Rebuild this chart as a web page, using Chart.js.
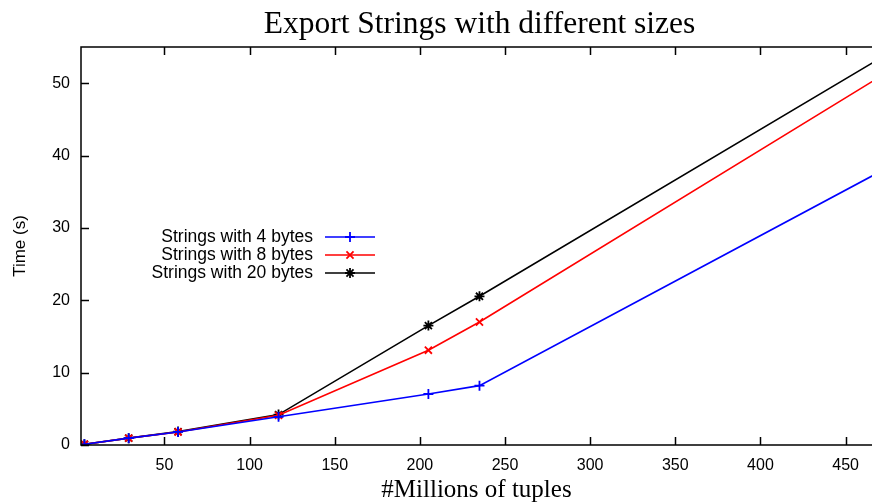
<!DOCTYPE html>
<html>
<head>
<meta charset="utf-8">
<title>Export Strings</title>
<script src="https://cdn.jsdelivr.net/npm/chart.js@4.4.0/dist/chart.umd.min.js"></script>
<style>
  body { margin: 0; background: #fff; }
  #exportChart { display: block; }
</style>
</head>
<body>
<canvas id="exportChart" width="872" height="504"></canvas>
<script>
// millions of tuples exported
var tuples = [3, 29, 58, 117, 205, 235, 480];
// time in seconds for each string size
var time4 = [0.1, 0.95, 1.8, 3.9, 7.05, 8.2, 39.0];
var time8 = [0.1, 0.95, 1.8, 4.1, 13.1, 17.0, 52.3];
var time20 = [0.1, 0.95, 1.85, 4.2, 16.5, 20.55, 54.8];

var xTicks = [50, 100, 150, 200, 250, 300, 350, 400, 450];
var yTicks = [0, 10, 20, 30, 40, 50];

var sans = "'Liberation Sans', Arial, sans-serif";
var serif = "'Liberation Serif', 'Times New Roman', serif";

function toPoints(values) {
  return values.map(function (v, i) {
    return { x: tuples[i], y: v };
  });
}

function series(label, values, color, style) {
  return {
    label: label,
    data: toPoints(values),
    borderColor: color,
    backgroundColor: color,
    borderWidth: 1.6,
    pointStyle: style,
    pointRadius: 5,
    pointBorderWidth: 1.8,
    pointBorderColor: color,
    tension: 0,
    fill: false,
  };
}

var data = {
  datasets: [
    series("Strings with 4 bytes", time4, "#0000ff", "cross"),
    series("Strings with 8 bytes", time8, "#ff0000", "crossRot"),
    series("Strings with 20 bytes", time20, "#000000", "star"),
  ],
};

// gnuplot-like frame with inward ticks
var framePlugin = {
  id: "frame",
  afterDatasetsDraw: function (chart) {
    var ctx = chart.ctx;
    var a = chart.chartArea;
    var xs = chart.scales.x;
    var ys = chart.scales.y;
    ctx.save();
    ctx.strokeStyle = "#000";
    ctx.lineWidth = 1.5;
    ctx.beginPath();
    ctx.moveTo(a.right + 2, a.top);
    ctx.lineTo(a.left, a.top);
    ctx.lineTo(a.left, a.bottom);
    ctx.lineTo(a.right + 2, a.bottom);
    xTicks.forEach(function (v) {
      var px = Math.round(xs.getPixelForValue(v)) + 0.5;
      ctx.moveTo(px, a.bottom);
      ctx.lineTo(px, a.bottom - 8);
      ctx.moveTo(px, a.top);
      ctx.lineTo(px, a.top + 8);
    });
    yTicks.forEach(function (v) {
      var py = Math.round(ys.getPixelForValue(v)) + 0.5;
      ctx.moveTo(a.left, py);
      ctx.lineTo(a.left + 8, py);
    });
    ctx.stroke();
    ctx.restore();
  },
};

// title over the plot and legend with the key on the right
var textPlugin = {
  id: "texts",
  afterDraw: function (chart) {
    var ctx = chart.ctx;
    var a = chart.chartArea;
    ctx.save();
    ctx.fillStyle = "#000";
    ctx.font = "31.5px " + serif;
    ctx.textAlign = "center";
    ctx.textBaseline = "alphabetic";
    ctx.fillText("Export Strings with different sizes", (a.left + a.right) / 2 + 3, 33);

    ctx.font = "17.5px " + sans;
    ctx.textAlign = "right";
    ctx.textBaseline = "middle";
    chart.data.datasets.forEach(function (ds, i) {
      var y = 237 + i * 18;
      ctx.fillStyle = "#000";
      ctx.fillText(ds.label, 313, y);
      ctx.strokeStyle = ds.borderColor;
      ctx.lineWidth = 1.6;
      ctx.beginPath();
      ctx.moveTo(325, y);
      ctx.lineTo(375, y);
      ctx.stroke();
      ctx.lineWidth = 1.8;
      Chart.helpers.drawPoint(ctx, { pointStyle: ds.pointStyle, radius: 5, rotation: 0, borderWidth: 1.8 }, 350, y);
    });
    ctx.restore();
  },
};

var ctx = document.getElementById("exportChart").getContext("2d");

var exportChart = new Chart(ctx, {
  type: "line",
  data: data,
  plugins: [framePlugin, textPlugin],
  options: {
    responsive: false,
    animation: false,
    layout: { autoPadding: false, padding: { top: 47, right: 0, left: 0, bottom: 0 } },
    plugins: {
      legend: { display: false },
      title: { display: false },
      tooltip: { enabled: false },
    },
    scales: {
      x: {
        type: "linear",
        min: 1,
        max: 465.5,
        afterBuildTicks: function (scale) {
          scale.ticks = xTicks.map(function (v) { return { value: v }; });
        },
        afterFit: function (scale) {
          scale.height = 59;
        },
        grid: { display: false },
        border: { display: false },
        ticks: {
          color: "#000",
          font: { family: sans, size: 16 },
          padding: 3,
          maxRotation: 0,
        },
        title: {
          display: true,
          text: "#Millions of tuples",
          color: "#000",
          font: { family: serif, size: 25, lineHeight: 1.12 },
          padding: { top: 0, bottom: 0 },
        },
      },
      y: {
        min: 0,
        max: 55,
        afterBuildTicks: function (scale) {
          scale.ticks = yTicks.map(function (v) { return { value: v }; });
        },
        afterFit: function (scale) {
          scale.width = 81;
        },
        grid: { display: false },
        border: { display: false },
        ticks: {
          color: "#000",
          font: { family: sans, size: 16 },
          padding: 3,
        },
        title: {
          display: true,
          text: "Time (s)",
          color: "#000",
          font: { family: sans, size: 17 },
          padding: { top: 10, bottom: 0 },
        },
      },
    },
  },
});
</script>
</body>
</html>
